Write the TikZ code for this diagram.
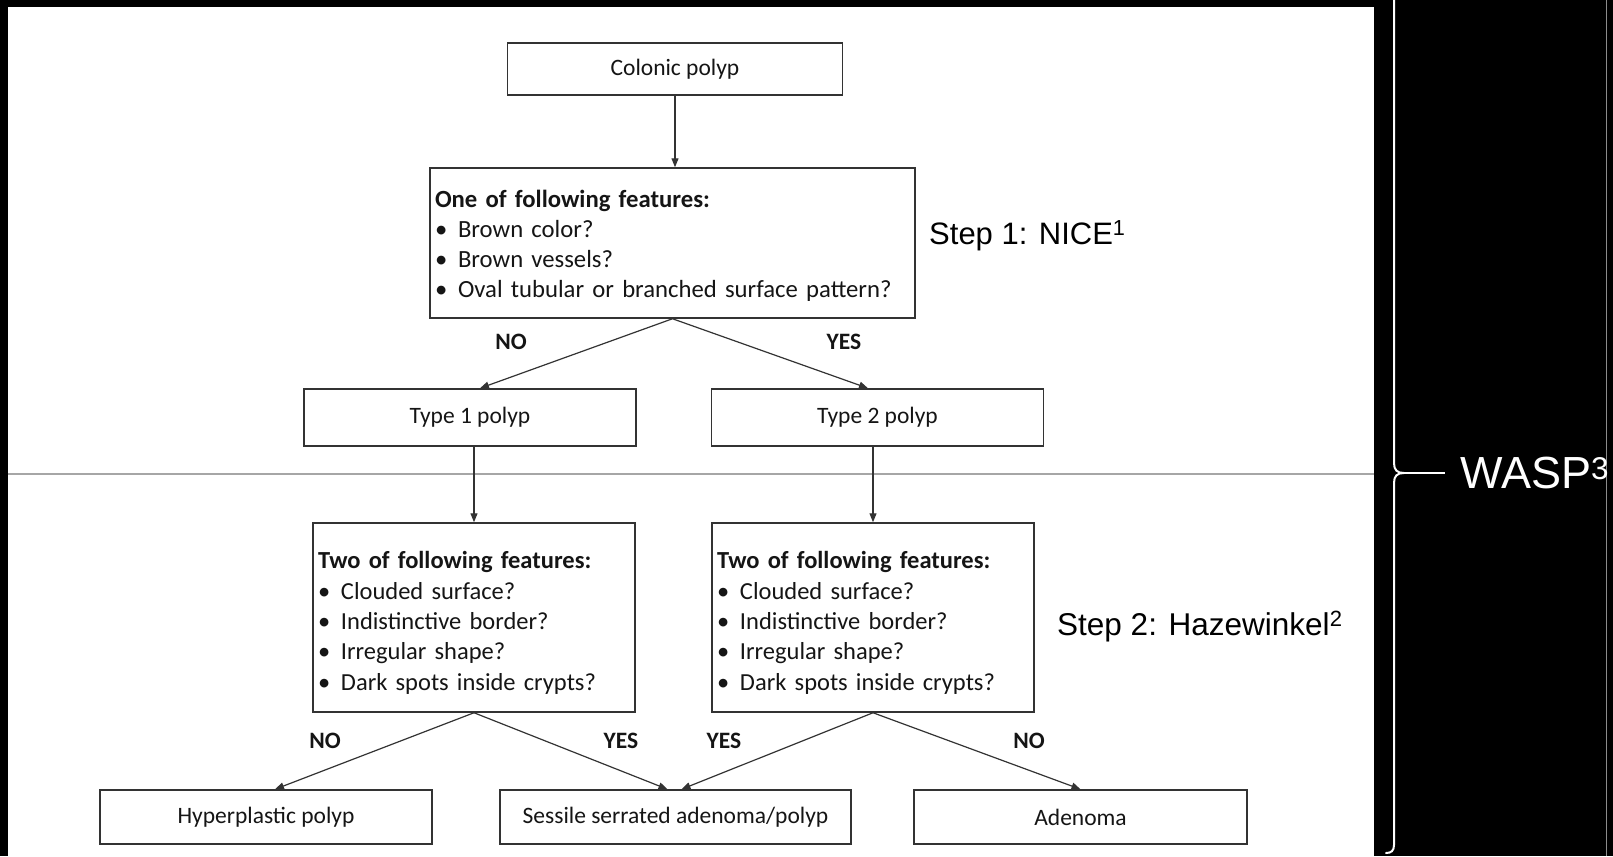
\documentclass[tikz,border=0pt]{standalone}
\usepackage{fontspec}
\setmainfont{Carlito}
\newfontfamily\arialf{Liberation Sans}
\usetikzlibrary{arrows.meta,calc}
\definecolor{ink}{HTML}{151515}
\definecolor{edge}{HTML}{333333}
\tikzset{
  box/.style={draw=edge, line width=1.5pt, fill=white, inner sep=0pt, text=ink,
    font=\fontsize{23.5}{29.5}\selectfont, align=center},
  featbox/.style={box, align=left, inner xsep=5pt, inner ysep=0pt},
  conn/.style={draw=edge, line width=1.2pt, -{Triangle[length=9pt,width=7pt]}},
  ans/.style={text=ink, font=\fontsize{23.5}{28}\selectfont\bfseries, inner sep=0pt},
  steplbl/.style={text=black, font=\arialf\fontsize{31}{36}\selectfont, inner sep=0pt, anchor=west},
}
\newcommand{\bul}[1]{\makebox[23pt][l]{\textbullet}#1}
\begin{document}
\begin{tikzpicture}[x=1pt,y=-1pt]
\useasboundingbox (0,0) rectangle (1613,856);
\fill[black] (0,0) rectangle (1613,856);
\fill[white] (8,7) rectangle (1374,856);
\draw[black!35, line width=1.5pt] (8,474) -- (1374,474);
\draw[black!45, line width=1pt] (1606,0) -- (1606,856);

% nodes
\node[box, minimum width=335pt, minimum height=52pt] (colonic) at (675,69) {Colonic polyp};
\node[featbox, text width=475pt, minimum height=150pt, font=\fontsize{24.7}{30}\selectfont] (nice) at (672.5,243)
  {\rule{0pt}{23.5pt}\textbf{One of following features:}\\
   \bul{Brown color?}\\
   \bul{Brown vessels?}\\
   \bul{Oval tubular or branched surface pattern?}};
\node[box, minimum width=332pt, minimum height=57pt] (type1) at (470,417.5) {Type 1 polyp};
\node[box, minimum width=332pt, minimum height=57pt] (type2) at (877.5,417.5) {Type 2 polyp};
\node[featbox, text width=312pt, minimum height=189pt, font=\fontsize{24.5}{30.3}\selectfont] (hazl) at (474,617.5)
  {\rule{0pt}{28pt}\textbf{Two of following features:}\\
   \bul{Clouded surface?}\\
   \bul{Indistinctive border?}\\
   \bul{Irregular shape?}\\
   \bul{Dark spots inside crypts?}};
\node[featbox, text width=312pt, minimum height=189pt, font=\fontsize{24.5}{30.3}\selectfont] (hazr) at (873,617.5)
  {\rule{0pt}{28pt}\textbf{Two of following features:}\\
   \bul{Clouded surface?}\\
   \bul{Indistinctive border?}\\
   \bul{Irregular shape?}\\
   \bul{Dark spots inside crypts?}};
\node[box, minimum width=332pt, minimum height=54pt] (hyp) at (266,817) {Hyperplastic polyp};
\node[box, minimum width=351pt, minimum height=54pt] (ssa) at (675.5,817) {Sessile serrated adenoma/polyp};
\node[box, minimum width=333pt, minimum height=54pt] (aden) at (1080.5,817) {Adenoma};

% answer labels
\node[ans] (no1) at (511,342) {NO};
\node[ans] (yes1) at (844,342) {YES};
\node[ans] (no2) at (325,741) {NO};
\node[ans] (yes2) at (621,741) {YES};
\node[ans] (yes3) at (724,741) {YES};
\node[ans] (no3) at (1029,741) {NO};

% step labels
\node[steplbl] (step1) at (929,236) {Step 1: NICE\textsuperscript{1}};
\node[steplbl, font=\arialf\fontsize{31.5}{36}\selectfont] (step2) at (1057,627) {Step 2: Hazewinkel\textsuperscript{2}};
\node[steplbl, text=white, font=\arialf\fontsize{45}{50}\selectfont] (wasp) at (1460,473) {WASP\textsuperscript{3}};

% connectors
\draw[conn] (colonic.south) -- (colonic.south |- nice.north);
\draw[conn] (nice.south) -- ($(type1.north)+(10,0)$);
\draw[conn] (nice.south) -- ($(type2.north)+(-9.5,0)$);
\draw[conn] (hazl.north |- type1.south) -- (hazl.north);
\draw[conn] (hazr.north |- type2.south) -- (hazr.north);
\draw[conn] (hazl.south) -- ($(hyp.north)+(9,0)$);
\draw[conn] (hazl.south) -- ($(ssa.north)+(-8,0)$);
\draw[conn] (hazr.south) -- ($(ssa.north)+(6,0)$);
\draw[conn] (hazr.south) -- (aden.north);

% brace
\coordinate (tip) at (1404,473);
\draw[white, line width=2pt, line cap=round]
  (1394,-4) -- (1394,463) .. controls (1394,470) and (1397,473) .. (tip)
  .. controls (1397,473) and (1394,476) .. (1394,483) -- (1394,845)
  .. controls (1394,851) and (1391,853) .. (1386,853);
\draw[white, line width=2pt] (tip) -- (wasp.west -| 1445,0);
\end{tikzpicture}
\end{document}
